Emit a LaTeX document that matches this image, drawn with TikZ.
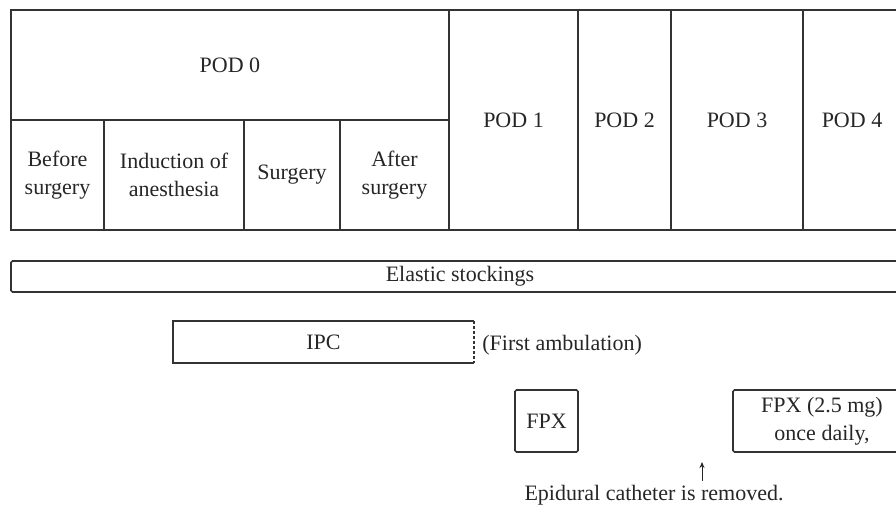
\documentclass[tikz,border=0pt]{standalone}
\usepackage{fontspec}
\setmainfont{Liberation Serif}
\usetikzlibrary{positioning,arrows.meta}

\tikzset{
  cell/.style={draw=black!80,line width=1.6pt,inner sep=0pt,align=center,text=black!85},
  bar/.style={draw=black!80,line width=1.6pt,inner sep=0pt,align=center,text=black!85,rounded corners=1.5pt},
  note/.style={inner sep=0pt,text=black!85}
}

\begin{document}
\begin{tikzpicture}[x=1pt,y=-1pt,font=\fontsize{22}{28}\selectfont]
\path[use as bounding box] (0,0) rectangle (896,511);
% schedule table
\node[cell,minimum width=438pt,minimum height=110pt] (pod0) at (230,65) {POD 0};
\node[cell,minimum width=93pt,minimum height=110pt] (before) at (57.5,175) {Before\\surgery};
\node[cell,minimum width=140pt,minimum height=110pt] (induction) at (174,175) {Induction of\\anesthesia};
\node[cell,minimum width=96pt,minimum height=110pt] (surgery) at (292,175) {Surgery};
\node[cell,minimum width=109pt,minimum height=110pt] (after) at (394.5,175) {After\\surgery};
\node[cell,minimum width=129pt,minimum height=220pt] (pod1) at (513.5,120) {POD 1};
\node[cell,minimum width=93pt,minimum height=220pt] (pod2) at (624.5,120) {POD 2};
\node[cell,minimum width=132pt,minimum height=220pt] (pod3) at (737,120) {POD 3};
\node[cell,minimum width=98pt,minimum height=220pt] (pod4) at (852,120) {POD 4};
% prophylaxis bars
\node[bar,minimum width=898pt,minimum height=31pt] (stockings) at (460,276.5) {Elastic stockings};
\node[note,minimum width=301pt,minimum height=42pt] (ipc) at (323.5,342) {IPC};
\draw[black!80,line width=1.6pt] (ipc.north east) -- (ipc.north west) -- (ipc.south west) -- (ipc.south east);
\draw[black!80,line width=1.6pt,dash pattern=on 3pt off 2pt] (ipc.north east) -- (ipc.south east);
\node[note,right=8pt of ipc,yshift=-3pt] (ambulation) {(First ambulation)};
\node[bar,minimum width=63pt,minimum height=62pt] (fpx) at (546.5,421) {FPX};
\node[bar,minimum width=178pt,minimum height=62pt] (fpxdaily) at (822,421) {FPX (2.5 mg)\\once daily,};
% catheter removal
\node[note] (epidural) at (654,495) {Epidural catheter is removed.};
\coordinate (removal) at (702,462);
\draw[black!85,line width=0.9pt,-{Stealth[length=6pt,width=5pt]}] (epidural.north -| removal) ++(0,-4) -- (removal);
\end{tikzpicture}
\end{document}
